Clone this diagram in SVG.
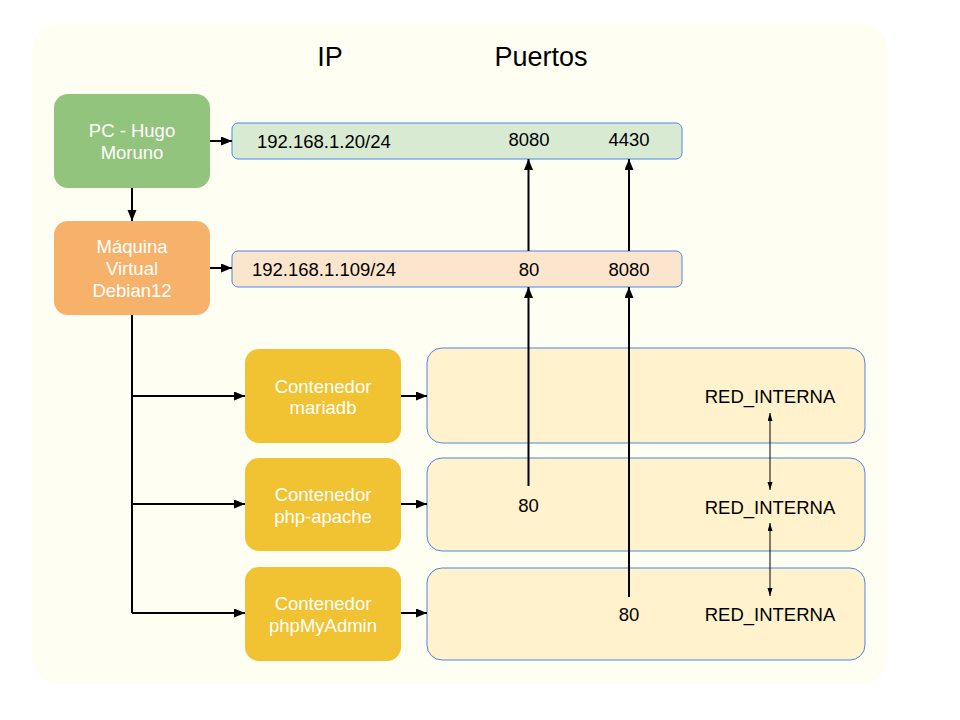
<svg xmlns="http://www.w3.org/2000/svg" width="960" height="720" viewBox="0 0 960 720">
<style>
text{font-family:"Liberation Sans",Arial,sans-serif;font-size:18.5px;}
.w{fill:#ffffff;text-anchor:middle;}
.k{fill:#000000;}
.c{text-anchor:middle;}
.h{font-size:27px;text-anchor:middle;fill:#000;}
.ln{stroke:#000;stroke-width:2;fill:none;}
.thin{stroke:#000;stroke-width:1;fill:none;}
.bar{stroke:#4a86e8;stroke-width:1;}
</style>
<defs>
<marker id="a" markerUnits="userSpaceOnUse" markerWidth="12" markerHeight="10" refX="11" refY="4.5" orient="auto">
<path d="M0,0 L11,4.5 L0,9 z" fill="#000"/>
</marker>
<marker id="s" markerUnits="userSpaceOnUse" markerWidth="9" markerHeight="6" refX="8" refY="2.5" orient="auto-start-reverse">
<path d="M0,0 L8,2.5 L0,5 z" fill="#000"/>
</marker>
</defs>
<rect width="960" height="720" fill="#ffffff"/>
<rect id="background" x="32" y="24" width="856" height="660" rx="26" fill="#fefef2"/>
<g id="headers">
<text class="h" x="330" y="66">IP</text>
<text class="h" x="541" y="66">Puertos</text>
</g>
<g id="pc">
<rect x="54" y="94" width="156" height="94" rx="14" fill="#93c47d"/>
<text class="w" x="132" y="137">PC - Hugo</text>
<text class="w" x="132" y="159">Moruno</text>
</g>
<g id="vm">
<rect x="54" y="221" width="156" height="94" rx="14" fill="#f6b26b"/>
<text class="w" x="132" y="253">Máquina</text>
<text class="w" x="132" y="275">Virtual</text>
<text class="w" x="132" y="297">Debian12</text>
</g>
<g id="ip-pc">
<rect class="bar" x="232" y="123" width="450" height="36" rx="6" fill="#d9ead3"/>
<text class="k" x="257" y="147.5">192.168.1.20/24</text>
<text class="k c" x="529" y="146">8080</text>
<text class="k c" x="629" y="146">4430</text>
</g>
<g id="ip-vm">
<rect class="bar" x="232" y="251" width="450" height="36" rx="6" fill="#fce5cd"/>
<text class="k" x="252" y="276">192.168.1.109/24</text>
<text class="k c" x="529" y="276">80</text>
<text class="k c" x="629" y="276">8080</text>
</g>
<g id="c-mariadb">
<rect x="245" y="349" width="156" height="94" rx="14" fill="#f1c232"/>
<text class="w" x="323" y="392.5">Contenedor</text>
<text class="w" x="323" y="414">mariadb</text>
</g>
<g id="c-php">
<rect x="245" y="458" width="156" height="93" rx="14" fill="#f1c232"/>
<text class="w" x="323" y="501">Contenedor</text>
<text class="w" x="323" y="522.5">php-apache</text>
</g>
<g id="c-pma">
<rect x="245" y="567" width="156" height="94" rx="14" fill="#f1c232"/>
<text class="w" x="323" y="610">Contenedor</text>
<text class="w" x="323" y="632">phpMyAdmin</text>
</g>
<g id="net-mariadb">
<rect class="bar" x="427" y="348" width="438" height="95" rx="15" fill="#fff2cc"/>
<text class="k c" x="770" y="402.5">RED_INTERNA</text>
</g>
<g id="net-php">
<rect class="bar" x="427" y="458" width="438" height="93" rx="15" fill="#fff2cc"/>
<text class="k c" x="528.5" y="511.5">80</text>
<text class="k c" x="770" y="514">RED_INTERNA</text>
</g>
<g id="net-pma">
<rect class="bar" x="427" y="568" width="438" height="92" rx="15" fill="#fff2cc"/>
<text class="k c" x="629" y="620.5">80</text>
<text class="k c" x="770" y="620.5">RED_INTERNA</text>
</g>
<g id="connectors">
<path class="ln" d="M210,141 L232,141" marker-end="url(#a)"/>
<path class="ln" d="M132,188 L132,221" marker-end="url(#a)"/>
<path class="ln" d="M210,268 L232,268" marker-end="url(#a)"/>
<path class="ln" d="M528.5,251 L528.5,159" marker-end="url(#a)"/>
<path class="ln" d="M629,251 L629,159" marker-end="url(#a)"/>
<path class="ln" d="M528.5,486 L528.5,287" marker-end="url(#a)"/>
<path class="ln" d="M629,597 L629,287" marker-end="url(#a)"/>
<path class="ln" d="M132,315 L132,613"/>
<path class="ln" d="M132,396 L245,396" marker-end="url(#a)"/>
<path class="ln" d="M132,504 L245,504" marker-end="url(#a)"/>
<path class="ln" d="M132,613 L245,613" marker-end="url(#a)"/>
<path class="ln" d="M401,396 L427,396" marker-end="url(#a)"/>
<path class="ln" d="M401,504 L427,504" marker-end="url(#a)"/>
<path class="ln" d="M401,613 L427,613" marker-end="url(#a)"/>
<path class="thin" d="M770,413 L770,490" marker-start="url(#s)" marker-end="url(#s)"/>
<path class="thin" d="M770,523 L770,596" marker-start="url(#s)" marker-end="url(#s)"/>
</g>
</svg>
